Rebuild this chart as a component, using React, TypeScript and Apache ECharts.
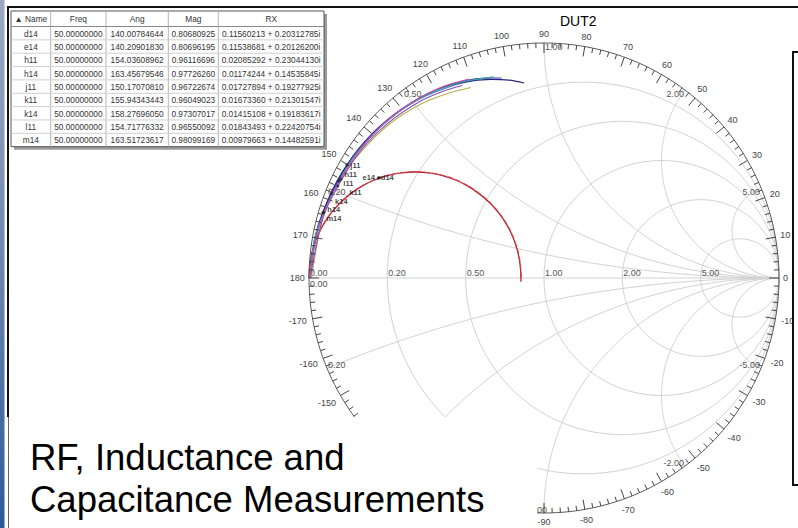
import React, { useEffect, useRef } from 'react';
import * as echarts from 'echarts';

const FONT = '"Liberation Sans", Arial, sans-serif';

// ---------- table data ----------
const tableHeaders = ['\u25B2 Name', 'Freq', 'Ang', 'Mag', 'RX'];
const markerNames = ['d14', 'e14', 'h11', 'h14', 'j11', 'k11', 'k14', 'l11', 'm14'];
const markerFreq = [50, 50, 50, 50, 50, 50, 50, 50, 50];
const markerAng = [140.00784644, 140.2090183, 154.03608962, 163.45679546, 150.1707081, 155.94343443, 158.2769605, 154.71776332, 163.51723617];
const markerMag = [0.80680925, 0.80696195, 0.96116696, 0.9772626, 0.96722674, 0.96049023, 0.97307017, 0.96550092, 0.98099169];
const markerRX = [
  '0.11560213 + 0.20312785i',
  '0.11538681 + 0.20126200i',
  '0.02085292 + 0.23044130i',
  '0.01174244 + 0.14535845i',
  '0.01727894 + 0.19277925i',
  '0.01673360 + 0.21301547i',
  '0.01415108 + 0.19183617i',
  '0.01843493 + 0.22420754i',
  '0.00979663 + 0.14482591i',
];

// ---------- Smith grid values ----------
const rCircles = [0.2, 0.5, 1, 2, 5];
const xArcs = [0.2, 0.5, 1, 2, 5];
// angle labels hidden in the reference behind the text box
const hiddenAngleLabels = [-140, -130, -120, -110, -100];
const hiddenXLabels = [-0.5];

// ---------- traces ----------
// red traces as reflection coefficient [re, im]
const d14Trace = [
  [-1.0, 0.0], [-0.996, 0.059], [-0.985, 0.117], [-0.966, 0.173], [-0.94, 0.226], [-0.907, 0.275],
  [-0.868, 0.319], [-0.824, 0.358], [-0.775, 0.391], [-0.722, 0.417], [-0.666, 0.436], [-0.608, 0.447],
  [-0.549, 0.451], [-0.49, 0.447], [-0.432, 0.436], [-0.376, 0.417], [-0.324, 0.391], [-0.275, 0.358],
  [-0.23, 0.319], [-0.191, 0.275], [-0.158, 0.226], [-0.132, 0.173], [-0.113, 0.117], [-0.102, 0.059],
  [-0.098, 0.0], [-0.098, -0.015],
];
const e14Trace = [
  [-1.0, 0.0], [-0.995, 0.06], [-0.984, 0.118], [-0.965, 0.174], [-0.939, 0.227], [-0.906, 0.276],
  [-0.867, 0.32], [-0.823, 0.359], [-0.774, 0.392], [-0.721, 0.418], [-0.665, 0.437], [-0.607, 0.448],
  [-0.548, 0.452], [-0.489, 0.448], [-0.431, 0.437], [-0.375, 0.418], [-0.323, 0.392], [-0.274, 0.359],
  [-0.229, 0.32], [-0.19, 0.276], [-0.157, 0.227], [-0.131, 0.174], [-0.112, 0.118], [-0.101, 0.06],
  [-0.097, 0.0], [-0.097, -0.015],
];
const d14MarkerPos = [-0.705, 0.425];
const e14MarkerPos = [-0.7, 0.427];

// cluster traces as [angle deg, magnitude]
const h11Trace = [[180, 0.995], [170, 0.985], [160, 0.972], [154, 0.961], [145, 0.955], [135, 0.946], [125, 0.932], [117, 0.919], [110.6, 0.905]];
const h14Trace = [[180, 0.998], [170, 0.99], [163.5, 0.977], [150, 0.962], [140, 0.95], [130, 0.937], [120, 0.92], [112, 0.902], [104, 0.882]];
const j11Trace = [[180, 0.995], [170, 0.988], [160, 0.978], [150.2, 0.967], [140, 0.952], [130, 0.938], [120, 0.922], [112, 0.9], [105, 0.875], [100, 0.855], [95.8, 0.834]];
const k11Trace = [[180, 0.995], [165, 0.975], [156, 0.96], [145, 0.95], [135, 0.935], [125, 0.918], [118, 0.902], [113, 0.89]];
const k14Trace = [[180, 0.997], [168, 0.985], [158.3, 0.973], [145, 0.958], [135, 0.945], [125, 0.928], [115, 0.905], [108, 0.89]];
const l11Trace = [[180, 0.99], [165, 0.975], [154.7, 0.966], [145, 0.945], [135, 0.928], [125, 0.906], [118, 0.887], [111, 0.868]];
const m14Trace = [[180, 0.999], [170, 0.99], [163.5, 0.981], [150, 0.966], [140, 0.955], [130, 0.94], [120, 0.924], [112, 0.905], [106, 0.885], [102, 0.87]];

const clusterTraces = [
  { name: 'l11', color: '#b4b048', pts: l11Trace },
  { name: 'k11', color: '#8050b0', pts: k11Trace },
  { name: 'k14', color: '#4a78c8', pts: k14Trace },
  { name: 'm14', color: '#3838b0', pts: m14Trace },
  { name: 'j11', color: '#26267e', pts: j11Trace },
  { name: 'h14', color: '#3aa8a0', pts: h14Trace },
  { name: 'h11', color: '#d04cb4', pts: h11Trace },
];

// marker label placement (styling only), keyed by marker name
const markerLabelStyle: Record<string, { position: string; offset: number[] }> = {
  d14: { position: 'right', offset: [0, -1] },
  e14: { position: 'left', offset: [-2, 0] },
  j11: { position: 'right', offset: [1, 1] },
  h11: { position: 'right', offset: [1, -5] },
  l11: { position: 'right', offset: [2, 2] },
  k11: { position: 'right', offset: [9, 7] },
  k14: { position: 'right', offset: [1, 8] },
  h14: { position: 'right', offset: [1, -3] },
  m14: { position: 'right', offset: [1, 6] },
};

// ---------- helpers ----------
const toXY = (p: number[]) => {
  const a = (p[0] * Math.PI) / 180;
  return [p[1] * Math.cos(a), p[1] * Math.sin(a)];
};

function rCircle(r: number) {
  const c = r / (1 + r), rad = 1 / (1 + r);
  const pts: number[][] = [];
  for (let i = 0; i <= 240; i++) {
    const t = (i * 2 * Math.PI) / 240;
    pts.push([c + rad * Math.cos(t), rad * Math.sin(t)]);
  }
  return pts;
}
function xArc(x: number) {
  const pts: number[][] = [];
  for (let i = 0; i <= 160; i++) {
    const t = (i * (Math.PI / 2)) / 160;
    const r = i === 160 ? 1e7 : Math.tan(t);
    const den = (r + 1) * (r + 1) + x * x;
    pts.push([(r * r - 1 + x * x) / den, (2 * x) / den]);
  }
  return pts;
}

const GRID = '#d2d2d2';
const ringAngles: number[] = [];
for (let a = -178; a <= 180; a += 2) ringAngles.push(a);

// grid labels
type GL = { text: string; re: number; im: number; align: string; va: string; dx: number; dy: number };
const gridLabels: GL[] = [];
[0, ...rCircles].forEach((r) => {
  gridLabels.push({ text: r.toFixed(2), re: (r - 1) / (r + 1), im: 0, align: 'left', va: 'bottom', dx: 1, dy: -1 });
});
gridLabels.push({ text: '0.00', re: -1, im: 0, align: 'left', va: 'top', dx: 1, dy: 1 });
[...xArcs, ...xArcs.map((v) => -v)].forEach((x) => {
  if (hiddenXLabels.includes(x)) return;
  const den = 1 + x * x;
  const re = (x * x - 1) / den, im = (2 * x) / den;
  let align = re > 0.01 ? 'right' : 'left';
  let dx = align === 'left' ? 1 : -1;
  if (x === -1) { align = 'right'; dx = 3; }
  const text = x === -0.2 ? '0.20' : x.toFixed(2);
  gridLabels.push({ text, re, im, align, va: 'middle', dx, dy: x > 0 ? 4 : -3 });
});

function txt(x: number, y: number, text: string, font: string, fill: string, align = 'left', va = 'middle', z = 100) {
  return {
    type: 'text', x, y, z, silent: true,
    style: { text, font, fill, align, verticalAlign: va, textAlign: align, textVerticalAlign: va },
  };
}

function buildTable() {
  const els: any[] = [];
  const colX = [11, 50.7, 106, 168.3, 218.3, 324];
  const top = 11, headerH = 15.5, rowH = 13.35;
  const bottom = top + headerH + rowH * markerNames.length;
  const left = colX[0], right = colX[colX.length - 1];
  els.push({ type: 'rect', z: 99, shape: { x: left + 3, y: top + 3, width: right - left, height: bottom - top }, style: { fill: '#9a9a9a' } });
  els.push({ type: 'rect', z: 100, shape: { x: left, y: top, width: right - left, height: bottom - top }, style: { fill: '#ffffff', stroke: '#555', lineWidth: 1 } });
  for (let i = 1; i < colX.length - 1; i++) {
    els.push({ type: 'line', z: 101, shape: { x1: colX[i], y1: top, x2: colX[i], y2: bottom }, style: { stroke: '#b4b4b4', lineWidth: 1 } });
  }
  els.push({ type: 'line', z: 101, shape: { x1: left, y1: top + headerH, x2: right, y2: top + headerH }, style: { stroke: '#8a8a8a', lineWidth: 1 } });
  for (let r = 1; r < markerNames.length; r++) {
    const y = top + headerH + r * rowH;
    els.push({ type: 'line', z: 101, shape: { x1: left, y1: y, x2: right, y2: y }, style: { stroke: '#d0d0d0', lineWidth: 1 } });
  }
  const f = '8.3px ' + FONT;
  tableHeaders.forEach((h, i) => {
    els.push(txt((colX[i] + colX[i + 1]) / 2, top + headerH / 2 + 0.5, h, f, '#333', 'center', 'middle', 102));
  });
  markerNames.forEach((n, r) => {
    const y = top + headerH + r * rowH + rowH / 2 + 0.5;
    const cells = [n, markerFreq[r].toFixed(8), markerAng[r].toFixed(8), markerMag[r].toFixed(8), markerRX[r]];
    cells.forEach((c, i) => {
      els.push(txt((colX[i] + colX[i + 1]) / 2, y, c, f, '#333', 'center', 'middle', 102));
    });
  });
  return els;
}

function buildOption() {
  const series: any[] = [];
  const gridLine = (data: number[][], color = GRID, width = 1, z = 1) => ({
    type: 'line', data, symbol: 'none', silent: true, z, clip: false,
    lineStyle: { color, width }, animation: false,
  });
  rCircles.forEach((r) => series.push(gridLine(rCircle(r))));
  xArcs.forEach((x) => {
    series.push(gridLine(xArc(x)));
    series.push(gridLine(xArc(-x)));
  });
  series.push(gridLine([[-1, 0], [1, 0]]));
  series.push(gridLine(rCircle(0), '#5a5a5a', 1, 2));

  // grid labels
  series.push({
    type: 'custom', coordinateSystem: 'cartesian2d', z: 3, silent: true, clip: false,
    data: gridLabels.map((g) => [g.re, g.im]),
    renderItem: (params: any, api: any) => {
      const g = gridLabels[params.dataIndex];
      const p = api.coord([g.re, g.im]);
      return {
        type: 'text', x: p[0] + g.dx, y: p[1] + g.dy,
        style: { text: g.text, font: '9px ' + FONT, fill: '#555', align: g.align, verticalAlign: g.va, textAlign: g.align, textVerticalAlign: g.va },
      };
    },
  });

  // traces
  series.push({ type: 'line', name: 'd14', data: d14Trace, symbol: 'none', smooth: 0.3, z: 4, lineStyle: { color: '#a8283c', width: 1.3 } });
  series.push({ type: 'line', name: 'e14', data: e14Trace, symbol: 'none', smooth: 0.3, z: 4, lineStyle: { color: '#e23a3a', width: 1.2, type: [5, 3] } });
  clusterTraces.forEach((t) => {
    series.push({ type: 'line', name: t.name, data: t.pts.map(toXY), symbol: 'none', smooth: 0.3, z: 4, lineStyle: { color: t.color, width: 1.1 } });
  });

  // angle ring
  series.push({
    type: 'custom', coordinateSystem: 'cartesian2d', z: 5, silent: true, clip: false,
    data: ringAngles.map((a) => [a, 0]),
    renderItem: (params: any, api: any) => {
      const a = ringAngles[params.dataIndex];
      const rad = (a * Math.PI) / 180;
      const c = Math.cos(rad), s = Math.sin(rad);
      const p = api.coord([c, s]);
      const major = a % 10 === 0;
      const len = major ? 10 : 5;
      const children: any[] = [
        { type: 'line', shape: { x1: p[0], y1: p[1], x2: p[0] - c * len, y2: p[1] + s * len }, style: { stroke: '#444', lineWidth: 1 } },
      ];
      if (major && !hiddenAngleLabels.includes(a)) {
        const label = String(a);
        const hw = label.length * 2.6, hh = 5;
        const off = 4 + hw * Math.abs(c) + hh * Math.abs(s);
        children.push({
          type: 'text', x: p[0] + c * off, y: p[1] - s * off,
          style: { text: label, font: '9px ' + FONT, fill: '#444', align: 'center', verticalAlign: 'middle', textAlign: 'center', textVerticalAlign: 'middle' },
        });
      }
      return { type: 'group', children };
    },
  });

  // markers
  const markerData = markerNames.map((n, i) => {
    let v: number[];
    if (n === 'd14') v = d14MarkerPos;
    else if (n === 'e14') v = e14MarkerPos;
    else v = toXY([markerAng[i], markerMag[i]]);
    const ls = markerLabelStyle[n];
    return { name: n, value: v, label: { position: ls.position, offset: ls.offset } };
  });
  series.push({
    type: 'scatter', data: markerData, symbol: 'circle', symbolSize: 3, z: 6, clip: false,
    itemStyle: { color: '#222' },
    label: { show: true, formatter: '{b}', position: 'right', distance: 1, fontSize: 7.5, fontWeight: 'bold', color: '#111', fontFamily: FONT },
  });

  const graphics: any[] = [
    // left blue strip
    {
      type: 'rect', z: 100, shape: { x: 0, y: 0, width: 4.5, height: 528 },
      style: { fill: { type: 'linear', x: 0, y: 0, x2: 0, y2: 1, colorStops: [{ offset: 0, color: '#9ea8c2' }, { offset: 0.5, color: '#6f86ae' }, { offset: 1, color: '#2b5a9c' }] } },
    },
    // white cover box with text
    { type: 'rect', z: 100, shape: { x: 9, y: 417, width: 528, height: 111 }, style: { fill: '#ffffff' } },
    txt(30, 457, 'RF, Inductance and', '36.5px ' + FONT, '#000', 'left', 'middle', 101),
    txt(30, 499, 'Capacitance Measurements', '36.5px ' + FONT, '#000', 'left', 'middle', 101),
    // borders
    { type: 'rect', z: 100, shape: { x: 7, y: 6, width: 791, height: 2 }, style: { fill: '#111' } },
    { type: 'rect', z: 100, shape: { x: 7, y: 6, width: 2, height: 411 }, style: { fill: '#111' } },
    { type: 'rect', z: 100, shape: { x: 8, y: 417, width: 1, height: 111 }, style: { fill: '#666' } },
    // right cut-off box
    { type: 'rect', z: 100, shape: { x: 793, y: 52, width: 12, height: 433 }, style: { fill: '#ffffff', stroke: '#111', lineWidth: 2 } },
    ...buildTable(),
  ];

  return {
    animation: false,
    backgroundColor: '#ffffff',
    title: { text: 'DUT2', left: 555, top: 9, textStyle: { fontSize: 14, fontWeight: 'normal', color: '#000', fontFamily: FONT } },
    grid: { left: 309, top: 43, width: 470, height: 470 },
    xAxis: { type: 'value', min: -1, max: 1, show: false },
    yAxis: { type: 'value', min: -1, max: 1, show: false },
    series,
    graphic: { elements: graphics },
  };
}

export default function App() {
  const ref = useRef<HTMLDivElement>(null);
  useEffect(() => {
    const chart = echarts.init(ref.current!, null, { renderer: 'svg' });
    chart.setOption(buildOption() as any);
    return () => chart.dispose();
  }, []);
  return <div ref={ref} style={{ position: 'fixed', left: 0, top: 0, width: 798, height: 528, background: '#fff' }} />;
}
